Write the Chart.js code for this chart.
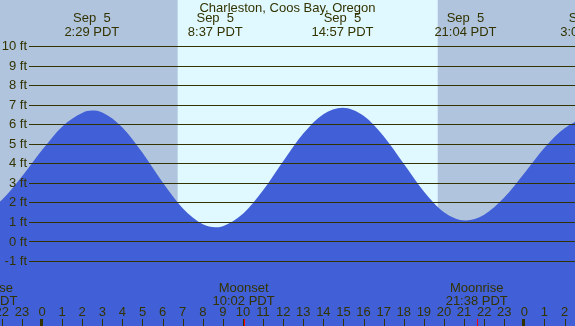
<!DOCTYPE html>
<html>
<head>
<meta charset="utf-8">
<script src="https://cdn.jsdelivr.net/npm/chart.js@4.4.1/dist/chart.umd.min.js"></script>
<style>
  html, body { margin: 0; padding: 0; background: #ffffff; }
  canvas { display: block; }
</style>
</head>
<body>
<canvas id="tide_chart" width="575" height="326"></canvas>
<script>
/*------------------------------*/
/*            DATA              */
/*------------------------------*/
var chartTitle = 'Charleston, Coos Bay, Oregon'

// tide height (ft) against hours from midnight Sep 5
var tideHours  = [-3, -2, -1, 0, 1, 2, 2.48, 3, 4, 5, 6, 7, 8, 8.62, 9, 10, 11, 12, 13, 14, 14.95, 16, 17, 18, 19, 20, 21.07, 22, 23, 24, 25, 26, 27.15, 28]
var tideHeights = [1.4, 2.15, 3.35, 4.7, 5.9, 6.6, 6.72, 6.62, 5.86, 4.56, 3.05, 1.72, 0.9, 0.75, 0.81, 1.44, 2.64, 4.13, 5.55, 6.54, 6.87, 6.46, 5.41, 4.0, 2.58, 1.52, 1.1, 1.39, 2.27, 3.52, 4.82, 5.82, 6.3, 6.1]

// high / low tide labels along the top
var extremeHours = [2.48, 8.62, 14.95, 21.07, 27.15]
var extremeDates = ['Sep  5', 'Sep  5', 'Sep  5', 'Sep  5', 'Sep  6']
var extremeTimes = ['2:29 PDT', '8:37 PDT', '14:57 PDT', '21:04 PDT', '3:09 PDT']

// moon events along the bottom
var moonHours  = [-2.77, 10.03, 21.63]
var moonEvents = ['Moonrise', 'Moonset', 'Moonrise']
var moonTimes  = ['21:14 PDT', '10:02 PDT', '21:38 PDT']

// daylight (sunrise -> sunset)
var dayStart = [6.75]
var dayEnd   = [19.69]

var heightTicks = [-1, 0, 1, 2, 3, 4, 5, 6, 7, 8, 9, 10]
var hourTicks = [-2, -1, 0, 1, 2, 3, 4, 5, 6, 7, 8, 9, 10, 11, 12, 13, 14, 15, 16, 17, 18, 19, 20, 21, 22, 23, 24, 25, 26]

/*------------------------------*/
/*           COLOURS            */
/*------------------------------*/
var nightColor = '#b0c4de'
var dayColor = '#e0f8ff'
var waterColor = '#4160d7'
var inkColor = '#333300'
var font = '13px "Liberation Sans", Arial, sans-serif'

/*------------------------------*/
/*           PLUGIN             */
/*------------------------------*/
var tideDecor = {
  id: 'tideDecor',
  beforeDatasetsDraw: function (chart) {
    var c = chart.ctx, a = chart.chartArea, x = chart.scales.x
    c.save()
    c.fillStyle = nightColor
    c.fillRect(a.left, a.top, a.right - a.left, a.bottom - a.top)
    c.fillStyle = dayColor
    for (var i = 0; i < dayStart.length; i++) {
      var x0 = x.getPixelForValue(dayStart[i])
      var x1 = x.getPixelForValue(dayEnd[i])
      c.fillRect(x0, a.top, x1 - x0, a.bottom - a.top)
    }
    c.restore()
  },
  afterDatasetsDraw: function (chart) {
    var c = chart.ctx, a = chart.chartArea, x = chart.scales.x, y = chart.scales.y
    c.save()
    c.font = font
    c.fillStyle = inkColor

    // horizontal lines + ft labels
    c.strokeStyle = inkColor
    c.lineWidth = 1
    c.textAlign = 'right'
    c.textBaseline = 'middle'
    heightTicks.forEach(function (h) {
      var py = y.getPixelForValue(h)
      var ly = Math.floor(py) + 0.5
      c.beginPath()
      c.moveTo(29, ly)
      c.lineTo(a.right, ly)
      c.stroke()
      c.fillText(h + ' ft', 27, py)
    })

    // title and high/low labels
    c.textAlign = 'center'
    c.textBaseline = 'alphabetic'
    c.fillText(chartTitle, (a.left + a.right) / 2, 12)
    extremeHours.forEach(function (t, i) {
      var px = x.getPixelForValue(t)
      c.fillText(extremeDates[i], px, 22)
      c.fillText(extremeTimes[i], px, 36)
    })

    // moon events
    moonHours.forEach(function (t, i) {
      var px = x.getPixelForValue(t)
      c.fillText(moonEvents[i], px, 292)
      c.fillText(moonTimes[i], px, 304.5)
    })

    // hour labels and ticks
    hourTicks.forEach(function (t) {
      var px = x.getPixelForValue(t)
      var lbl = ((t % 24) + 24) % 24
      c.fillText(String(lbl), px, 316)
      if (lbl === 0) c.fillRect(Math.round(px) - 2, 319, 3, 7)
      else c.fillRect(Math.round(px), 319, 1, 7)
    })
    c.fillStyle = '#ff0000'
    moonHours.forEach(function (t) {
      var px = x.getPixelForValue(t)
      c.fillRect(Math.round(px), 319, 1, 7)
    })
    c.restore()
  }
}

/*------------------------------*/
/*            CHART             */
/*------------------------------*/
var ctx_tide = document.getElementById('tide_chart').getContext('2d')

var data_tide = {
  datasets: [{
    data: tideHours.map(function (t, i) { return { x: t, y: tideHeights[i] } }),
    fill: 'start',
    backgroundColor: waterColor,
    borderColor: waterColor,
    borderWidth: 0,
    pointRadius: 0,
    cubicInterpolationMode: 'monotone'
  }]
}

var config_tide = {
  type: 'line',
  data: data_tide,
  options: {
    responsive: false,
    animation: false,
    layout: { padding: 0 },
    plugins: {
      legend: { display: false },
      tooltip: { enabled: false },
      title: { display: false }
    },
    scales: {
      x: { type: 'linear', min: -2.09, max: 26.52, display: false },
      y: { type: 'linear', min: -4.3, max: 12.38, display: false }
    }
  },
  plugins: [tideDecor]
}
var graph_tide = new Chart(ctx_tide, config_tide)
</script>
</body>
</html>
